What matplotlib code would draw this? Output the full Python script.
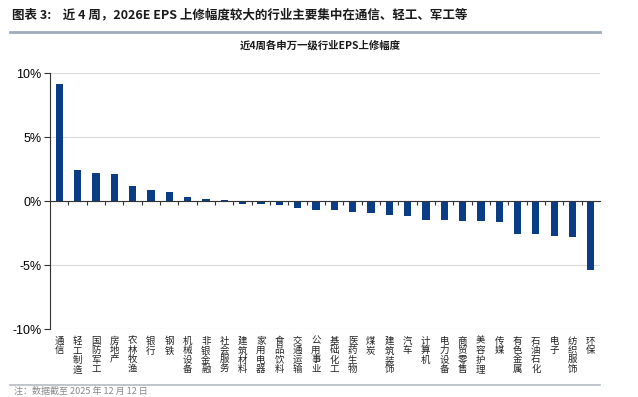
import matplotlib
matplotlib.use("Agg")
import matplotlib.pyplot as plt
from matplotlib.lines import Line2D

plt.rcParams["font.family"] = ["Noto Sans CJK SC", "DejaVu Sans"]

industries = [
    "通信", "轻工制造", "国防军工", "房地产", "农林牧渔", "银行", "钢铁",
    "机械设备", "非银金融", "社会服务", "建筑材料", "家用电器", "食品饮料",
    "交通运输", "公用事业", "基础化工", "医药生物", "煤炭", "建筑装饰",
    "汽车", "计算机", "电力设备", "商贸零售", "美容护理", "传媒",
    "有色金属", "石油石化", "电子", "纺织服饰", "环保",
]
eps_revision = [
    9.17, 2.45, 2.21, 2.14, 1.15, 0.83, 0.70,
    0.29, 0.13, 0.05, -0.20, -0.26, -0.34,
    -0.57, -0.67, -0.70, -0.86, -0.96, -1.07,
    -1.17, -1.51, -1.51, -1.54, -1.59, -1.64,
    -2.58, -2.58, -2.76, -2.81, -5.42,
]
y_ticks = [-10, -5, 0, 5, 10]

header = "图表 3:    近 4 周，2026E EPS 上修幅度较大的行业主要集中在通信、轻工、军工等"
chart_title = "近4周各申万一级行业EPS上修幅度"
footnote = "注：数据截至 2025 年 12 月 12 日"

W, H = 638, 397
fig = plt.figure(figsize=(W / 100, H / 100), dpi=100)

# -------------------------
# header + separator lines
# -------------------------
fig.text(12 / W, 1 - 15 / H, header, fontsize=9, fontweight="bold",
         ha="left", va="center", color="#1a1a1a")
fig.add_artist(Line2D([10 / W, 600 / W], [1 - 32 / H, 1 - 32 / H],
                      color="#9fabbb", lw=2))
fig.text(320 / W, 1 - 45 / H, chart_title, fontsize=7.5, fontweight="bold",
         ha="center", va="center", color="#1a1a1a")
fig.add_artist(Line2D([10 / W, 600 / W], [1 - 385 / H, 1 - 385 / H],
                      color="#b5bcc4", lw=1.2))
fig.text(14 / W, 1 - 391.5 / H, footnote, fontsize=6.5, ha="left", va="center",
         color="#888888")

# -------------------------
# bar chart
# -------------------------
ax = fig.add_axes([50 / W, 1 - 329 / H, 550 / W, 256 / H])
x = list(range(len(industries)))
ax.bar(x, eps_revision, width=0.4, color="#0b3d86", zorder=3)

ax.set_xlim(-0.5, len(industries) - 0.5)
ax.set_ylim(-10, 10)
ax.set_yticks(y_ticks)
ax.set_yticklabels([f"{v}%" for v in y_ticks], family=["Liberation Sans"], fontsize=9)
ax.grid(axis="y", color="#d9d9d9", lw=0.8, zorder=0)

ax.spines["top"].set_visible(False)
ax.spines["right"].set_visible(False)
ax.spines["bottom"].set_position(("data", 0))
ax.spines["bottom"].set_color("#333333")
ax.spines["left"].set_color("#333333")
ax.spines["bottom"].set_zorder(4)

ax.set_xticks([i + 0.5 for i in x[:-1]])
ax.set_xticklabels([])
ax.tick_params(axis="x", direction="out", length=3, color="#333333")
ax.tick_params(axis="y", direction="out", length=4, color="#333333", pad=2)

for i, name in zip(x, industries):
    ax.text(i, -10.6, "\n".join(name), ha="center", va="top", fontsize=6.8,
            linespacing=1.05, color="#222222", clip_on=False)

fig.savefig("out.png", dpi=100)
